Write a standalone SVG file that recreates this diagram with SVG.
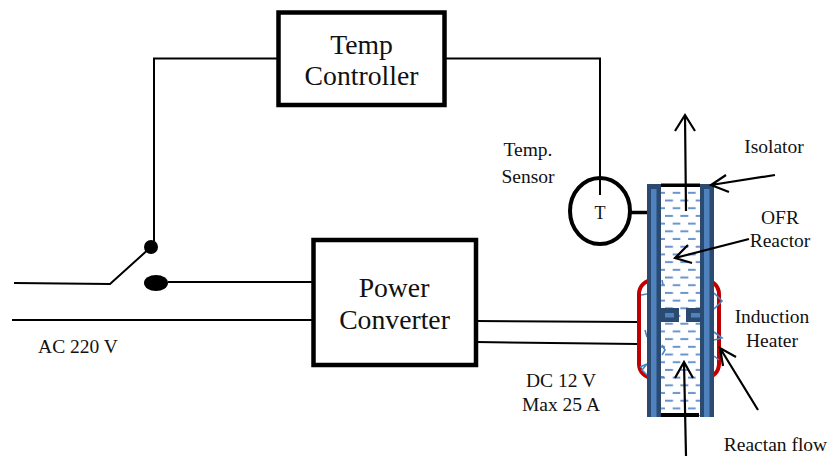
<svg xmlns="http://www.w3.org/2000/svg" width="830" height="456" viewBox="0 0 830 456">
<style>
text{font-family:"Liberation Serif","Times New Roman",serif;fill:#111}
.box{fill:#fff;stroke:#000;stroke-width:4.500}
.w{fill:none;stroke:#000;stroke-width:2}
.a{fill:none;stroke:#000;stroke-width:2.2}
.c{font-size:27.7px;text-anchor:middle}
.l{font-size:19.500px;text-anchor:middle}
.d{fill:#2a4a72}
.b{fill:#4f81bd}
.s{fill:none;stroke:#4f81bd;stroke-width:1.6}
</style>
<defs>
<pattern id="dash" patternUnits="userSpaceOnUse" x="665" y="189" width="15.33" height="15.4">
<rect x="7.7" y="2.8" width="8" height="2" fill="#6b95cc"/>
<rect x="0" y="10.5" width="8" height="2" fill="#6b95cc"/>
</pattern>
</defs>
<rect width="830" height="456" fill="#fff"/>
<g id="connectors">
<path class="w" d="M278 58.500H154V246"/>
<path class="w" d="M445 58.500H600V195"/>
<path class="w" d="M14 283L110 284L151 247"/>
<path class="w" d="M168 282H313"/>
<path class="w" d="M12 320H313"/>
<path class="w" d="M476 321L638 322"/>
<path class="w" d="M476 342L638 344"/>
<path d="M631 212.500H666" fill="none" stroke="#000" stroke-width="3.500"/>
</g>
<g id="switch">
<circle cx="151" cy="247" r="7" fill="#000"/>
<ellipse cx="156" cy="283" rx="12" ry="8" fill="#000"/>
</g>
<g id="temp-controller">
<rect class="box" x="278.500" y="12.500" width="166" height="92.500"/>
<text class="c" x="361.500" y="54">Temp</text>
<text class="c" x="361.500" y="85">Controller</text>
</g>
<g id="power-converter">
<rect class="box" x="313.500" y="240" width="162.500" height="125"/>
<text class="c" x="394" y="297">Power</text>
<text class="c" x="394.500" y="329">Converter</text>
</g>
<g id="temp-sensor">
<ellipse cx="600" cy="211" rx="30" ry="33" fill="none" stroke="#000" stroke-width="4"/>
<text x="600" y="219" font-size="18" text-anchor="middle">T</text>
</g>
<g id="induction-heater">
<rect x="639" y="280" width="80" height="98" rx="14" fill="none" stroke="#c00000" stroke-width="4"/>
<path class="s" d="M641 295L647 294M645 330L647 337M640 367L647 364L642 370L647 375"/>
<path class="s" d="M714 293L722 301L714 309M714 332L722 338L714 340M714 356L719 360"/>
</g>
<g id="reactor">
<rect x="661" y="186" width="39" height="230" fill="#fff"/>
<rect x="661" y="186" width="39" height="230" fill="url(#dash)"/>
<rect class="d" x="647" y="184" width="14" height="233"/>
<rect class="d" x="700" y="184" width="14" height="233"/>
<rect class="b" x="651" y="189" width="5.500" height="228"/>
<rect class="b" x="704" y="189" width="5.500" height="228"/>
<rect class="d" x="661" y="308" width="18" height="14"/>
<rect class="d" x="686" y="308" width="18" height="14"/>
<rect class="b" x="665" y="313" width="9" height="4.500"/>
<rect class="b" x="691" y="313" width="9" height="4.500"/>
<rect x="661" y="183.500" width="39" height="3.500" fill="#000"/>
<rect x="661" y="413" width="38" height="4" fill="#000"/>
<path class="s" d="M662 280L663 285M662 345L665 350L662 355M661 377H664"/>
</g>
<g id="arrows">
<path class="a" d="M686 211L685 115M675 131L685 115L695 131"/>
<path class="a" d="M686 456L684 362M675 378L684 362L693 378"/>
<path class="a" d="M775 175L711 185M726 175L711 185L729 192"/>
<path class="a" d="M749 239L675 258M688 245L675 258L692 263"/>
<path class="a" d="M758 410L720 348M736 357L720 348L723 366"/>
</g>
<g id="labels">
<text class="l" x="78" y="353">AC 220 V</text>
<text class="l" x="528" y="156">Temp.</text>
<text class="l" x="528" y="183">Sensor</text>
<text class="l" x="774" y="153">Isolator</text>
<text class="l" x="780" y="224">OFR</text>
<text class="l" x="780" y="247">Reactor</text>
<text class="l" x="772" y="323">Induction</text>
<text class="l" x="772" y="347">Heater</text>
<text class="l" x="561" y="387">DC 12 V</text>
<text class="l" x="561" y="411">Max 25 A</text>
<text class="l" x="775.500" y="451">Reactan flow</text>
</g>
</svg>
